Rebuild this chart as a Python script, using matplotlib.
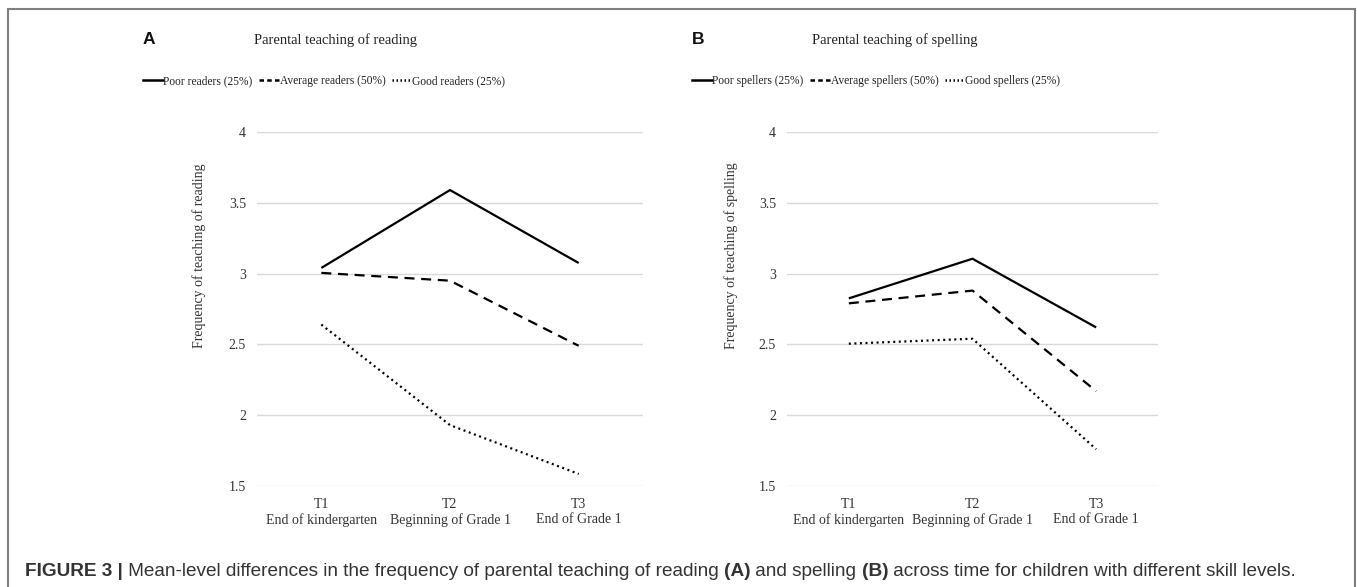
import matplotlib
matplotlib.use("Agg")
import matplotlib.pyplot as plt
from matplotlib.patches import Rectangle
from matplotlib.lines import Line2D

# ---------------- data ----------------
time_labels = ["T1\nEnd of kindergarten", "T2\nBeginning of Grade 1", "T3\nEnd of Grade 1"]

reading_poor = [3.04, 3.59, 3.075]
reading_avg = [3.005, 2.95, 2.49]
reading_good = [2.64, 1.93, 1.585]

spelling_poor = [2.825, 3.105, 2.62]
spelling_avg = [2.79, 2.88, 2.17]
spelling_good = [2.505, 2.54, 1.76]

reading_names = ["Poor readers (25%)", "Average readers (50%)", "Good readers (25%)"]
spelling_names = ["Poor spellers (25%)", "Average spellers (50%)", "Good spellers (25%)"]
y_ticks = [1.5, 2, 2.5, 3, 3.5, 4]
y_tick_labels = ["1.5", "2", "2.5", "3", "3.5", "4"]

SERIF = ["Liberation Serif", "DejaVu Serif"]
SANS = ["Liberation Sans", "DejaVu Sans"]

W, H = 1357, 587
fig = plt.figure(figsize=(W / 100, H / 100), dpi=100)

styles = [
    dict(linestyle="-", linewidth=1.6),
    dict(linestyle=(0, (4.5, 3)), linewidth=1.6),
    dict(linestyle=(0, (0.9, 1.6)), linewidth=1.6),
]
legend_styles = [
    dict(linestyle="-", linewidth=1.8),
    dict(linestyle=(0, (1.8, 1.3)), linewidth=1.8),
    dict(linestyle=(0, (0.6, 1.0)), linewidth=1.8),
]


def px_axes(x0, x1, y0, y1):
    return fig.add_axes([x0 / W, 1 - y1 / H, (x1 - x0) / W, (y1 - y0) / H])


def panel(ax, series, ylabel, label_x):
    xs = list(range(len(time_labels)))
    for vals, st in zip(series, styles):
        ax.plot(xs, vals, color="black", solid_capstyle="butt", dash_capstyle="butt", **st)
    ax.set_xlim(-0.5, len(time_labels) - 0.5)
    ax.set_ylim(y_ticks[0], y_ticks[-1])
    ax.set_yticks(y_ticks)
    ax.set_yticklabels(y_tick_labels, fontfamily=SERIF, fontsize=10, color="#333333")
    ax.set_xticks(xs)
    ax.set_xticklabels(time_labels, fontfamily=SERIF, fontsize=10, color="#333333",
                       linespacing=1.2)
    ax.tick_params(axis="y", length=0, pad=8)
    ax.tick_params(axis="x", length=0, pad=8.5)
    for s in ax.spines.values():
        s.set_visible(False)
    ax.grid(axis="y", color="#d9d9d9", linewidth=1)
    ax.set_axisbelow(True)
    ax.set_ylabel(ylabel, fontfamily=SERIF, fontsize=10, color="#333333")
    ax.yaxis.set_label_coords(label_x, 0.65)


ax1 = px_axes(257, 643, 132, 486)
panel(ax1, [reading_poor, reading_avg, reading_good],
      "Frequency of teaching of reading", -0.132)
ax2 = px_axes(787, 1158, 132, 486)
panel(ax2, [spelling_poor, spelling_avg, spelling_good],
      "Frequency of teaching of spelling", -0.132)

# titles and panel letters
fig.text(143 / W, 1 - 40 / H, "A", fontfamily=SANS, fontweight="bold", fontsize=12.5,
         va="center", ha="left", color="#111111")
fig.text(336 / W, 1 - 40 / H, "Parental teaching of reading", fontfamily=SERIF,
         fontsize=10.5, va="center", ha="center", color="#222222")
fig.text(692 / W, 1 - 40 / H, "B", fontfamily=SANS, fontweight="bold", fontsize=12.5,
         va="center", ha="left", color="#111111")
fig.text(895 / W, 1 - 40 / H, "Parental teaching of spelling", fontfamily=SERIF,
         fontsize=10.5, va="center", ha="center", color="#222222")


# legends
def make_legend(x_px, names):
    handles = [Line2D([0], [0], color="black", **st) for st in legend_styles]
    leg = fig.legend(handles, names, loc="center left",
                     bbox_to_anchor=(x_px / W, 1 - 81 / H), ncol=3, frameon=False,
                     handlelength=1.75, handletextpad=0.0, columnspacing=0.6,
                     borderaxespad=0, borderpad=0,
                     prop=dict(family=SERIF, size=8.3))
    for t in leg.get_texts():
        t.set_color("#222222")
    return leg


make_legend(143, reading_names)
make_legend(692, spelling_names)

# frame
fig.patches.append(Rectangle((8 / W, -0.05), (1355 - 8) / W, (1 - 9 / H) + 0.05,
                             transform=fig.transFigure, fill=False,
                             edgecolor="#7f7f7f", linewidth=1.5))

# caption with mixed weights
segments = [
    ("FIGURE 3 |", "bold"),
    (" Mean-level differences in the frequency of parental teaching of reading ", "normal"),
    ("(A)", "bold"),
    (" and spelling ", "normal"),
    ("(B)", "bold"),
    (" across time for children with different skill levels.", "normal"),
]
fig.canvas.draw()
renderer = fig.canvas.get_renderer()
x = 25
for txt, wt in segments:
    t = fig.text(x / W, 1 - 571 / H, txt, fontfamily=SANS, fontweight=wt, fontsize=13.65,
                 va="center", ha="left", color="#333333")
    bb = t.get_window_extent(renderer=renderer)
    x += bb.width

fig.savefig("out.png", dpi=100)
